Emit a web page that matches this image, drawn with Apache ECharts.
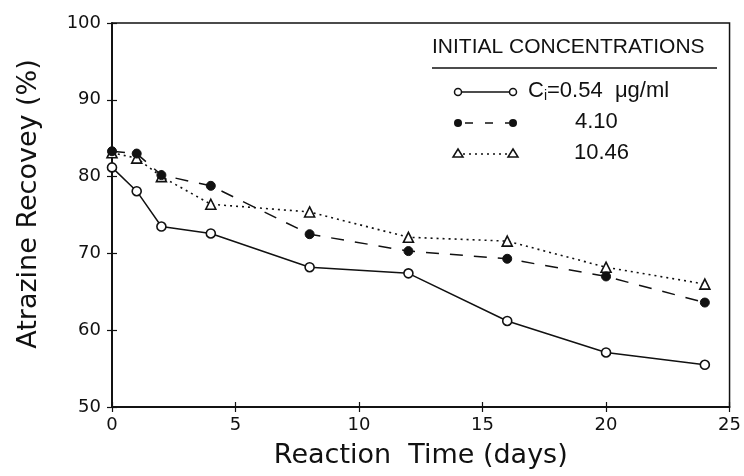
<!DOCTYPE html>
<html>
<head>
<meta charset="utf-8">
<script src="https://cdn.jsdelivr.net/npm/echarts@6/dist/echarts.min.js"></script>
<style>
  html, body { margin: 0; padding: 0; background: #fff; }
  #main { width: 744px; height: 476px; }
</style>
</head>
<body>
<div id="main"></div>
<script>
// data
var days = [0, 1, 2, 4, 8, 12, 16, 20, 24];
var conc054 = [81.2, 78.1, 73.5, 72.6, 68.2, 67.4, 61.2, 57.1, 55.5];
var conc410 = [83.3, 83.0, 80.2, 78.8, 72.5, 70.3, 69.3, 67.0, 63.6];
var conc1046 = [83.1, 82.4, 80.0, 76.4, 75.4, 72.1, 71.6, 68.2, 66.0];
var xTicks = [0, 5, 10, 15, 20, 25];
var yTicks = [50, 60, 70, 80, 90, 100];

var axisFont = 'DejaVu Sans';
var legFont = 'Liberation Sans';

function pairs(ys) {
  return days.map(function (d, i) { return [d, ys[i]]; });
}

var chart = echarts.init(document.getElementById('main'));

var baseX = {
  type: 'value', min: xTicks[0], max: xTicks[xTicks.length - 1], interval: 5,
  splitLine: { show: false },
  axisLine: { show: true, onZero: false, lineStyle: { color: '#111', width: 1.5 } }
};
var baseY = {
  type: 'value', min: yTicks[0], max: yTicks[yTicks.length - 1], interval: 10,
  splitLine: { show: false },
  axisLine: { show: true, onZero: false, lineStyle: { color: '#111', width: 1.5 } }
};

var option = {
  backgroundColor: '#fff',
  animation: false,
  grid: {
    left: 112, right: 12, top: 23, bottom: 69,
    show: true, borderColor: '#111', borderWidth: 1.5
  },
  xAxis: [
    Object.assign({}, baseX, {
      name: 'Reaction  Time (days)',
      nameLocation: 'middle', nameGap: 35,
      nameTextStyle: { fontFamily: axisFont, fontSize: 27, color: '#111' },
      axisTick: { show: true, inside: false, length: 5, lineStyle: { color: '#111', width: 1.2 } },
      axisLabel: { fontFamily: axisFont, fontSize: 18, color: '#111', margin: 9 }
    }),
    Object.assign({}, baseX, {
      position: 'bottom',
      axisTick: { show: true, inside: true, length: 5, lineStyle: { color: '#111', width: 1.2 } },
      axisLabel: { show: false }
    })
  ],
  yAxis: [
    Object.assign({}, baseY, {
      name: 'Atrazine Recovey (%)',
      nameLocation: 'middle', nameGap: 70,
      nameTextStyle: { fontFamily: axisFont, fontSize: 27, color: '#111', padding: [0, 0, 0, 22] },
      axisTick: { show: true, inside: false, length: 5, lineStyle: { color: '#111', width: 1.2 } },
      axisLabel: { fontFamily: axisFont, fontSize: 18, color: '#111', margin: 11 }
    }),
    Object.assign({}, baseY, {
      position: 'left',
      axisTick: { show: true, inside: true, length: 5, lineStyle: { color: '#111', width: 1.2 } },
      axisLabel: { show: false }
    })
  ],
  series: [
    {
      name: '0.54', type: 'line', data: pairs(conc054),
      symbol: 'circle', symbolSize: 9,
      lineStyle: { color: '#111', width: 1.5, type: 'solid' },
      itemStyle: { color: '#fff', borderColor: '#111', borderWidth: 1.6 },
      z: 4
    },
    {
      name: '4.10', type: 'line', data: pairs(conc410),
      symbol: 'circle', symbolSize: 9,
      lineStyle: { color: '#111', width: 1.5, type: [13, 11] },
      itemStyle: { color: '#111', borderColor: '#111', borderWidth: 1 },
      z: 3
    },
    {
      name: '10.46', type: 'line', data: pairs(conc1046),
      symbol: 'triangle', symbolSize: 10,
      lineStyle: { color: '#111', width: 1.6, type: [2, 4] },
      itemStyle: { color: '#fff', borderColor: '#111', borderWidth: 1.6 },
      z: 2
    }
  ],
  graphic: [
    { type: 'text', left: 432, top: 37,
      style: { text: 'INITIAL CONCENTRATIONS', fontFamily: legFont, fontSize: 21, fill: '#111' } },
    { type: 'line', shape: { x1: 432, y1: 68, x2: 717, y2: 68 },
      style: { stroke: '#111', lineWidth: 1.5 } },
    // row 1
    { type: 'line', shape: { x1: 461, y1: 92, x2: 510, y2: 92 }, style: { stroke: '#111', lineWidth: 1.5 } },
    { type: 'circle', shape: { cx: 458, cy: 92, r: 3.5 }, style: { fill: '#fff', stroke: '#111', lineWidth: 1.5 } },
    { type: 'circle', shape: { cx: 513, cy: 92, r: 3.5 }, style: { fill: '#fff', stroke: '#111', lineWidth: 1.5 } },
    { type: 'text', left: 528, top: 80,
      style: {
        text: 'C{s|i}=0.54  \u03bcg/ml', fontFamily: legFont, fontSize: 22, fill: '#111',
        rich: { s: { fontFamily: legFont, fontSize: 14, fill: '#111', padding: [10, 0, 0, 0] } }
      } },
    // row 2
    { type: 'line', shape: { x1: 462, y1: 123, x2: 509, y2: 123 },
      style: { stroke: '#111', lineWidth: 1.5, lineDash: [8, 12], lineDashOffset: -3 } },
    { type: 'circle', shape: { cx: 458, cy: 123, r: 4 }, style: { fill: '#111' } },
    { type: 'circle', shape: { cx: 513, cy: 123, r: 4 }, style: { fill: '#111' } },
    { type: 'text', left: 575, top: 111,
      style: { text: '4.10', fontFamily: legFont, fontSize: 22, fill: '#111' } },
    // row 3
    { type: 'line', shape: { x1: 463, y1: 154, x2: 508, y2: 154 },
      style: { stroke: '#111', lineWidth: 1.6, lineDash: [2, 4] } },
    { type: 'polygon', shape: { points: [[458, 149], [463, 157], [453, 157]] },
      style: { fill: '#fff', stroke: '#111', lineWidth: 1.5 } },
    { type: 'polygon', shape: { points: [[513, 149], [518, 157], [508, 157]] },
      style: { fill: '#fff', stroke: '#111', lineWidth: 1.5 } },
    { type: 'text', left: 574, top: 142,
      style: { text: '10.46', fontFamily: legFont, fontSize: 22, fill: '#111' } }
  ]
};

chart.setOption(option);
</script>
</body>
</html>
